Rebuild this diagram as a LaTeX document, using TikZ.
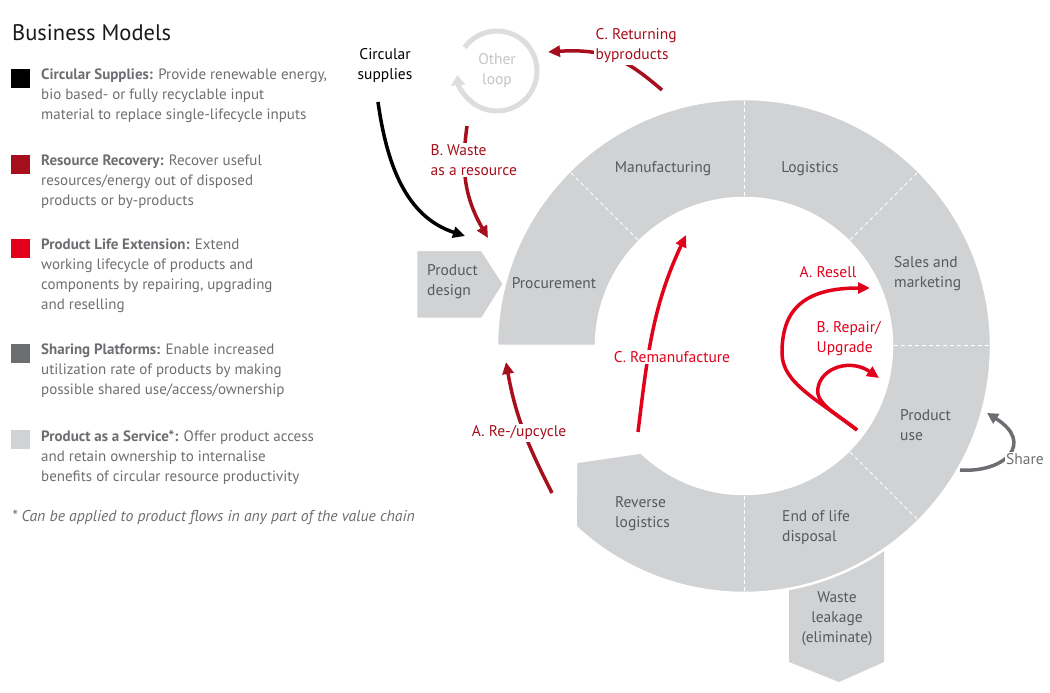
\documentclass[tikz,border=0pt]{standalone}
\usepackage{fontspec}
\setmainfont{PT Sans}
\usepackage{xcolor}
\usetikzlibrary{arrows.meta}

\definecolor{ringgray}{HTML}{D1D2D4}
\definecolor{labelgray}{HTML}{58595B}
\definecolor{leggray}{HTML}{6D6E71}
\definecolor{darkred}{HTML}{A6101C}
\definecolor{brightred}{HTML}{E2001A}
\definecolor{loopgray}{HTML}{DDDDDD}
\definecolor{looptext}{HTML}{C4C4C4}
\definecolor{sharegray}{HTML}{6D6E71}

\begin{document}
\begin{tikzpicture}[x=1pt, y=1pt]
        % ================= styles =================
        \tikzset{
            % grey text inside the ring
            seglabel/.style={text=labelgray, font=\fontsize{15.5}{20}\selectfont, align=left, inner sep=0pt},
            % labels of the loops
            lbl/.style={font=\fontsize{15.5}{20}\selectfont, align=left, inner sep=1.5pt},
            % legend
            legsq/.style={minimum size=19pt, inner sep=0pt, outer sep=0pt},
            legtxt/.style={anchor=north west, inner sep=0pt, align=left, text=leggray, font=\fontsize{15}{20}\selectfont},
            % ring pieces
            segment/.style={fill=ringgray, draw=white, line width=2.5pt},
            divider/.style={white, line width=1pt, dash pattern=on 4pt off 3pt},
            % arrows
            supply/.style={black, line width=3.5pt, -{Triangle[length=12pt,width=11pt]}},
            recovery/.style={darkred, line width=3.5pt, -{Triangle[length=12pt,width=11pt]}},
            extension/.style={brightred, line width=3.5pt, -{Triangle[length=12pt,width=11pt]}},
            sharing/.style={sharegray, line width=3.5pt, -{Triangle[length=11pt,width=11pt]}},
            otherloop/.style={loopgray, line width=5pt, -{Triangle[length=10pt,width=14pt]}}
        }
        \useasboundingbox (0,0) rectangle (1050,693);

        % ================= 1. legend =================
        \node[anchor=base west, inner sep=0pt, font=\fontsize{22.5}{26}\selectfont, text=black!90] (title) at (12,652) {Business Models};

        \node[legsq, fill=black] (sq1) at (20.5,614.5) {};
        \node[legsq, fill=darkred] (sq2) at (20.5,528.5) {};
        \node[legsq, fill=brightred] (sq3) at (20.5,444.5) {};
        \node[legsq, fill=sharegray] (sq4) at (20.5,339.5) {};
        \node[legsq, fill=ringgray] (sq5) at (20.5,253.5) {};

        \node[legtxt] (leg1) at ([xshift=11pt]sq1.north east) {\textbf{Circular Supplies:} Provide renewable energy,\\bio based- or fully recyclable input\\material to replace single-lifecycle inputs};
        \node[legtxt] (leg2) at ([xshift=11pt]sq2.north east) {\textbf{Resource Recovery:} Recover useful\\resources/energy out of disposed\\products or by-products};
        \node[legtxt] (leg3) at ([xshift=11pt]sq3.north east) {\textbf{Product Life Extension:} Extend\\working lifecycle of products and\\components by repairing, upgrading\\and reselling};
        \node[legtxt] (leg4) at ([xshift=11pt]sq4.north east) {\textbf{Sharing Platforms:} Enable increased\\utilization rate of products by making\\possible shared use/access/ownership};
        \node[legtxt] (leg5) at ([xshift=11pt]sq5.north east) {\textbf{Product as a Service*:} Offer product access\\and retain ownership to internalise\\benefits of circular resource productivity};

        \node[anchor=base west, inner sep=0pt, text=leggray, font=\fontsize{15.7}{20}\selectfont\itshape] (note) at (12,171) {* Can be applied to product flows in any part of the value chain};

        % ================= 2. value chain ring =================
        % waste box sits under the ring
        \fill[ringgray] (789,160) -- (789,31) -- (839,11) -- (884,31) -- (884,160) -- cycle;

        \begin{scope}[shift={(744,347)}]
            \path[segment] (180:247) arc[start angle=180, end angle=-133, radius=247]
                -- (-168,-116) -- (-134:148) arc[start angle=-134, end angle=180, radius=148] -- cycle;
            \foreach \a in {135,90,45,0,-45,-90}
                \draw[divider] (\a:150) -- (\a:245);
        \end{scope}

        % product design arrow box
        \path[segment] (416,443) -- (482,443) -- (504,409) -- (482,374) -- (416,374) -- cycle;

        \node[seglabel] (manu) at (663,524) {Manufacturing};
        \node[seglabel] (logi) at (810,524) {Logistics};
        \node[seglabel] (proc) at (554,410) {Procurement};
        \node[seglabel, anchor=west] (sales) at (894,419) {Sales and\\marketing};
        \node[seglabel, anchor=west] (use) at (900,268) {Product\\use};
        \node[seglabel, anchor=west] (eol) at (782,165) {End of life\\disposal};
        \node[seglabel, anchor=west] (rev) at (615,179) {Reverse\\logistics};
        \node[seglabel, align=center] (leak) at (837,74) {Waste\\leakage\\(eliminate)};
        \node[seglabel, anchor=west] (design) at (427,411) {Product\\design};

        % ================= 3. loops =================
        \coordinate (supstart) at (378,591);
        \coordinate (supend) at (465,457);
        \coordinate (wstart) at (467,567);
        \coordinate (wend) at (488,455);
        \coordinate (retstart) at (662,603);
        \coordinate (retend) at (548,641);
        \coordinate (upstart) at (552,200);
        \coordinate (upend) at (506,331);
        \coordinate (remstart) at (638,261);
        \coordinate (remend) at (686,458);
        \coordinate (usestart) at (857,263);
        \coordinate (resellend) at (870,405);
        \coordinate (repairend) at (879,315);
        \coordinate (sharestart) at (960,223);
        \coordinate (shareend) at (987,280);

        \node[lbl, text=looptext, align=center] (other) at (497,622) {Other\\loop};
        \draw[otherloop] ([shift={(144:40)}]other.center) arc[start angle=144, end angle=-174, radius=40];

        \draw[supply] (supstart) to[out=-82, in=162] (supend);
        \draw[recovery] (wstart) .. controls (462,530) and (462,500) .. (wend);
        \draw[recovery] (retstart) .. controls (630,630) and (610,645) .. (retend);
        \draw[recovery] (upstart) to[out=117, in=-80] (upend);
        \draw[extension] (remstart) to[out=83, in=-115] (remend);
        \draw[extension] (usestart) .. controls (817,294) and (782,310) .. (782,340)
            .. controls (782,380) and (800,405) .. (resellend);
        \draw[extension] (usestart) .. controls (835,280) and (815,290) .. (818,305)
            .. controls (821,325) and (850,335) .. (repairend);
        \draw[sharing] (sharestart) .. controls (1005,220) and (1035,250) .. (shareend);

        % labels on top of the loops
        \node[lbl, text=black, align=center] (circsup) at (385,627) {Circular\\supplies};
        \node[lbl, text=darkred, fill=white, anchor=west] (retby) at (594,647) {C. Returning\\byproducts};
        \node[lbl, text=darkred, fill=white, anchor=west] (waste) at (429,533) {B. Waste\\as a resource};
        \node[lbl, text=darkred, fill=white] (upcyc) at (519,260) {A. Re-/upcycle};
        \node[lbl, text=brightred, fill=white] (reman) at (672,336) {C. Remanufacture};
        \node[lbl, text=brightred] (resell) at (828,421) {A. Resell};
        \node[lbl, text=brightred, anchor=west] (repair) at (815,354) {B. Repair/\\Upgrade};
        \node[lbl, text=sharegray, fill=white] (share) at (1025,234) {Share};

\end{tikzpicture}
\end{document}
